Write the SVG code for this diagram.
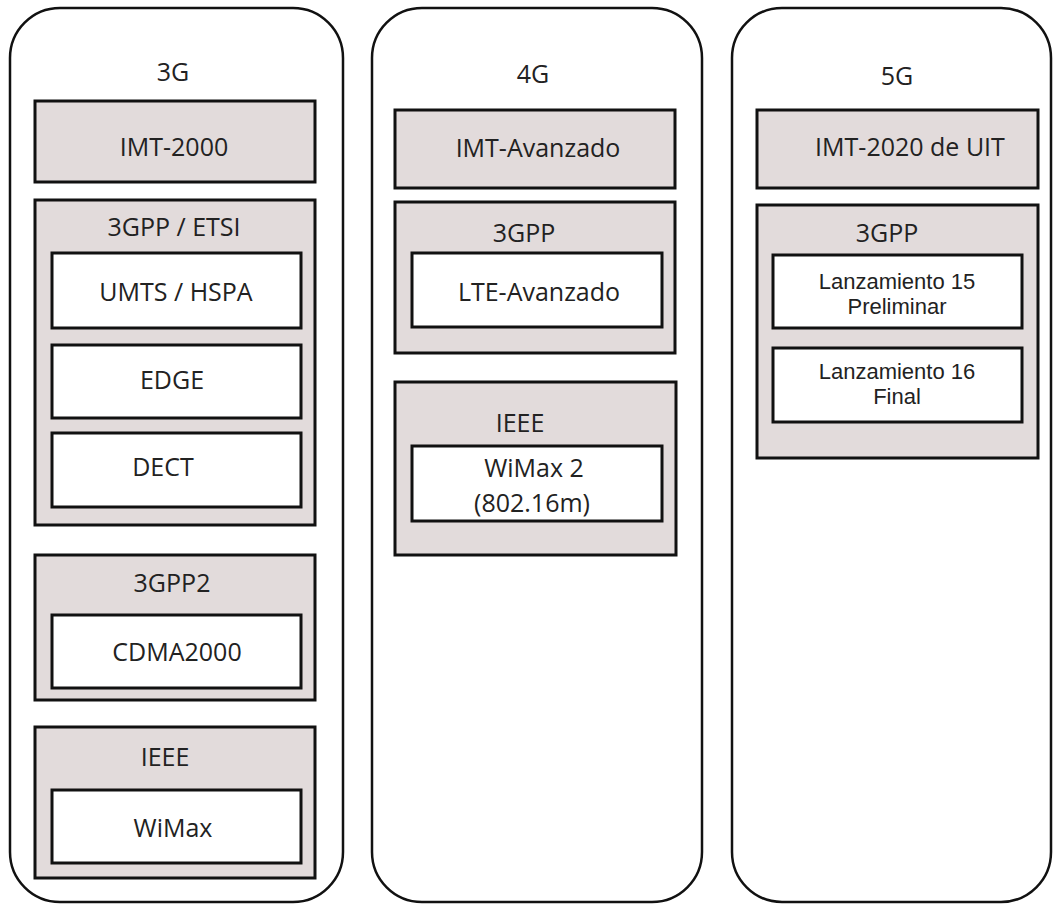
<svg xmlns="http://www.w3.org/2000/svg" width="1053" height="907" viewBox="0 0 1053 907">
<style>
.col{fill:#ffffff;stroke:#111;stroke-width:2.5}
.grp{fill:#e2dbdb;stroke:#111;stroke-width:3}
.item{fill:#ffffff;stroke:#111;stroke-width:3}
.t{font-family:"Open Sans","Noto Sans",sans-serif;font-size:25px;fill:#222;text-anchor:middle}
.a{font-family:"Liberation Sans",Arial,sans-serif;font-size:22px;fill:#222;text-anchor:middle}
</style>
<rect width="1053" height="907" fill="#ffffff"/>
<g id="col3g">
<rect class="col" x="10" y="8" width="333" height="894" rx="50" ry="50"/>
<text class="t" x="173" y="81">3G</text>
</g>
<g id="imt2000">
<rect class="grp" x="35" y="101" width="280" height="81"/>
<text class="t" x="174" y="156">IMT-2000</text>
</g>
<g id="g3gpp-etsi">
<rect class="grp" x="35" y="200" width="280" height="325"/>
<text class="t" x="174" y="236">3GPP / ETSI</text>
</g>
<g id="umts">
<rect class="item" x="52" y="253" width="249" height="75"/>
<text class="t" x="176" y="301">UMTS / HSPA</text>
</g>
<g id="edge">
<rect class="item" x="52" y="345" width="249" height="73"/>
<text class="t" x="172" y="389">EDGE</text>
</g>
<g id="dect">
<rect class="item" x="52" y="433" width="249" height="74"/>
<text class="t" x="163" y="476">DECT</text>
</g>
<g id="g3gpp2">
<rect class="grp" x="35" y="555" width="280" height="145"/>
<text class="t" x="172" y="592">3GPP2</text>
</g>
<g id="cdma2000">
<rect class="item" x="52" y="615" width="249" height="73"/>
<text class="t" x="177" y="661">CDMA2000</text>
</g>
<g id="ieee3g">
<rect class="grp" x="35" y="727" width="280" height="151"/>
<text class="t" x="165" y="766">IEEE</text>
</g>
<g id="wimax">
<rect class="item" x="52" y="790" width="249" height="73"/>
<text class="t" x="173" y="837">WiMax</text>
</g>

<g id="col4g">
<rect class="col" x="372" y="8" width="330" height="894" rx="50" ry="50"/>
<text class="t" x="533" y="83">4G</text>
</g>
<g id="imtavanzado">
<rect class="grp" x="395" y="110" width="280" height="78"/>
<text class="t" x="538" y="157">IMT-Avanzado</text>
</g>
<g id="g3gpp4g">
<rect class="grp" x="395" y="202" width="280" height="151"/>
<text class="t" x="524" y="242">3GPP</text>
</g>
<g id="lte">
<rect class="item" x="412" y="253" width="250" height="74"/>
<text class="t" x="539" y="301">LTE-Avanzado</text>
</g>
<g id="ieee4g">
<rect class="grp" x="395" y="382" width="281" height="173"/>
<text class="t" x="520" y="432">IEEE</text>
</g>
<g id="wimax2">
<rect class="item" x="412" y="446" width="250" height="75"/>
<text class="t" x="534" y="477">WiMax 2</text>
<text class="t" x="532" y="512">(802.16m)</text>
</g>

<g id="col5g">
<rect class="col" x="732" y="8" width="319" height="894" rx="50" ry="50"/>
<text class="t" x="897" y="85">5G</text>
</g>
<g id="imt2020">
<rect class="grp" x="757" y="110" width="281" height="78"/>
<text class="t" x="910" y="156">IMT-2020 de UIT</text>
</g>
<g id="g3gpp5g">
<rect class="grp" x="757" y="205" width="281" height="253"/>
<text class="t" x="887" y="242">3GPP</text>
</g>
<g id="rel15">
<rect class="item" x="773" y="255" width="249" height="73"/>
<text class="a" x="897" y="289">Lanzamiento 15</text>
<text class="a" x="897" y="314">Preliminar</text>
</g>
<g id="rel16">
<rect class="item" x="773" y="348" width="249" height="74"/>
<text class="a" x="897" y="379">Lanzamiento 16</text>
<text class="a" x="897" y="404">Final</text>
</g>
<g id="connectors"/>
</svg>
